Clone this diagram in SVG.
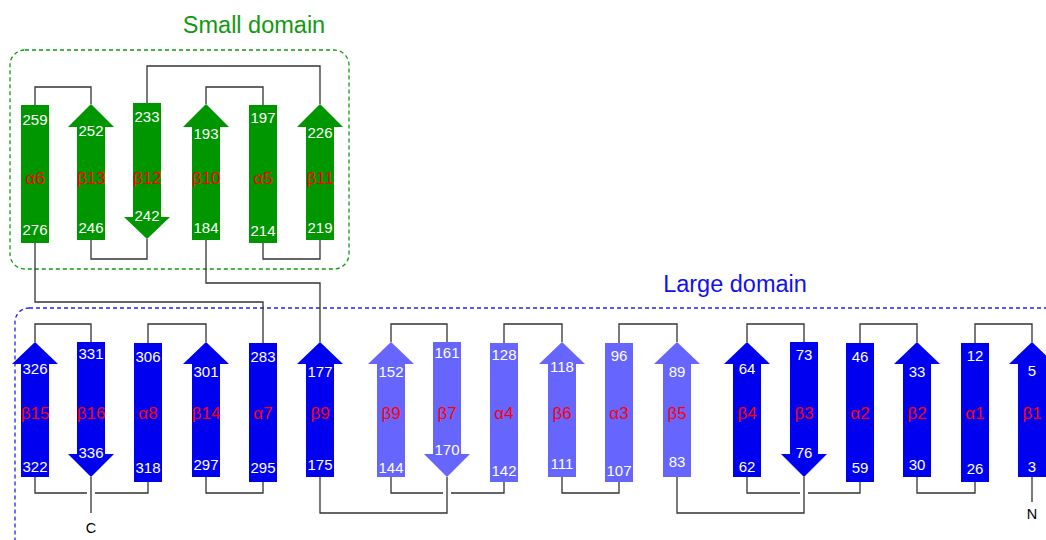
<svg xmlns="http://www.w3.org/2000/svg" width="1046" height="540" viewBox="0 0 1046 540">
  <style>
    .sd { fill: #009600; }
    .dk { fill: #0000F0; }
    .lt { fill: #6666FF; }
    .num { font-family: "Liberation Sans", Arial, sans-serif; font-size: 15px; fill: #ffffff; text-anchor: middle; }
    .ss { font-family: "Liberation Sans", Arial, sans-serif; font-size: 17px; fill: #ff0000; text-anchor: middle; }
    .term { font-family: "Liberation Sans", Arial, sans-serif; font-size: 14.5px; fill: #000000; text-anchor: middle; }
    .title { font-family: "Liberation Sans", Arial, sans-serif; font-size: 23.5px; text-anchor: middle; }
    .link { fill: none; stroke: #333333; stroke-width: 1.3; }
    .box { fill: none; stroke-width: 1.3; stroke-dasharray: 4 3; }
  </style>

  <!-- domain frames -->
  <g id="domains">
    <rect class="box" x="10" y="50" width="339" height="219" rx="15" stroke="#119911"/>
    <text class="title" x="254" y="33" fill="#119911">Small domain</text>
    <rect class="box" x="15" y="308" width="1100" height="300" rx="14" stroke="#2222EE"/>
    <text class="title" x="735" y="292" fill="#1111EE">Large domain</text>
  </g>

  <!-- loops between secondary-structure elements -->
  <g id="connectors">
    <!-- small domain -->
    <path class="link" d="M35,105 V87 H91 V104"/>
    <path class="link" d="M147,103 V66 H320 V104"/>
    <path class="link" d="M206,104 V87 H263 V105"/>
    <path class="link" d="M91,240 V259 H147 V239"/>
    <path class="link" d="M263,243 V259 H320 V240"/>
    <!-- between domains -->
    <path class="link" d="M35,243 V302 H263 V343"/>
    <path class="link" d="M206,240 V283 H320 V342"/>
    <!-- large domain, top loops -->
    <path class="link" d="M35,342 V324 H91 V342"/>
    <path class="link" d="M148,343 V324 H206 V342"/>
    <path class="link" d="M391,342 V324 H447 V342"/>
    <path class="link" d="M504,343 V324 H562 V342"/>
    <path class="link" d="M619,343 V324 H677 V342"/>
    <path class="link" d="M747,342 V324 H804 V342"/>
    <path class="link" d="M860,343 V324 H917 V342"/>
    <path class="link" d="M975,343 V324 H1032 V342"/>
    <!-- large domain, bottom loops -->
    <path class="link" d="M35,477 V493 H87"/>
    <path class="link" d="M95,493 H148 V482"/>
    <path class="link" d="M91,477 V513"/>
    <path class="link" d="M206,477 V493 H263 V482"/>
    <path class="link" d="M320,477 V513 H447 V477"/>
    <path class="link" d="M391,477 V493 H443"/>
    <path class="link" d="M451,493 H504 V482"/>
    <path class="link" d="M562,477 V493 H619 V482"/>
    <path class="link" d="M677,477 V513 H804 V477"/>
    <path class="link" d="M747,477 V493 H800"/>
    <path class="link" d="M808,493 H860 V482"/>
    <path class="link" d="M917,477 V493 H975 V482"/>
    <path class="link" d="M1032,477 V502"/>
    <text class="term" x="91" y="533">C</text>
    <text class="term" x="1032" y="519">N</text>
  </g>

  <!-- small domain elements -->
  <g id="a6">
    <rect class="sd" x="21" y="105" width="28" height="138"/>
    <text class="num" x="35" y="125">259</text><text class="num" x="35" y="235">276</text>
    <text class="ss" x="35" y="184">α6</text>
  </g>
  <g id="b13">
    <path class="sd" d="M91,104 L114,127 L105,127 L105,240 L77,240 L77,127 L68,127 Z"/>
    <text class="num" x="91" y="136">252</text><text class="num" x="91" y="233">246</text>
    <text class="ss" x="91" y="184">β13</text>
  </g>
  <g id="b12">
    <path class="sd" d="M133,103 L161,103 L161,217 L170,217 L147,239 L124,217 L133,217 Z"/>
    <text class="num" x="147" y="122">233</text><text class="num" x="147" y="221">242</text>
    <text class="ss" x="147" y="184">β12</text>
  </g>
  <g id="b10">
    <path class="sd" d="M206,104 L229,127 L220,127 L220,240 L192,240 L192,127 L183,127 Z"/>
    <text class="num" x="206" y="139">193</text><text class="num" x="206" y="233">184</text>
    <text class="ss" x="206" y="184">β10</text>
  </g>
  <g id="a5">
    <rect class="sd" x="249" y="105" width="28" height="138"/>
    <text class="num" x="263" y="123">197</text><text class="num" x="263" y="236">214</text>
    <text class="ss" x="263" y="184">α5</text>
  </g>
  <g id="b11">
    <path class="sd" d="M320,104 L343,127 L334,127 L334,240 L306,240 L306,127 L297,127 Z"/>
    <text class="num" x="320" y="138">226</text><text class="num" x="320" y="233">219</text>
    <text class="ss" x="320" y="184">β11</text>
  </g>

  <!-- large domain elements -->
  <g id="b15">
    <path class="dk" d="M35,342 L58,364 L49,364 L49,477 L21,477 L21,364 L12,364 Z"/>
    <text class="num" x="35" y="374">326</text><text class="num" x="35" y="472">322</text>
    <text class="ss" x="35" y="419">β15</text>
  </g>
  <g id="b16">
    <path class="dk" d="M77,342 L105,342 L105,454 L114,454 L91,477 L68,454 L77,454 Z"/>
    <text class="num" x="91" y="359">331</text><text class="num" x="91" y="458">336</text>
    <text class="ss" x="91" y="419">β16</text>
  </g>
  <g id="a8">
    <rect class="dk" x="134" y="343" width="28" height="139"/>
    <text class="num" x="148" y="362">306</text><text class="num" x="148" y="473">318</text>
    <text class="ss" x="148" y="419">α8</text>
  </g>
  <g id="b14">
    <path class="dk" d="M206,342 L229,364 L220,364 L220,477 L192,477 L192,364 L183,364 Z"/>
    <text class="num" x="206" y="377">301</text><text class="num" x="206" y="470">297</text>
    <text class="ss" x="206" y="419">β14</text>
  </g>
  <g id="a7">
    <rect class="dk" x="249" y="343" width="28" height="139"/>
    <text class="num" x="263" y="362">283</text><text class="num" x="263" y="473">295</text>
    <text class="ss" x="263" y="419">α7</text>
  </g>
  <g id="b9-dark">
    <path class="dk" d="M320,342 L343,364 L334,364 L334,477 L306,477 L306,364 L297,364 Z"/>
    <text class="num" x="320" y="377">177</text><text class="num" x="320" y="470">175</text>
    <text class="ss" x="320" y="419">β9</text>
  </g>
  <g id="b9-light">
    <path class="lt" d="M391,342 L414,364 L405,364 L405,477 L377,477 L377,364 L368,364 Z"/>
    <text class="num" x="391" y="377">152</text><text class="num" x="391" y="473">144</text>
    <text class="ss" x="391" y="419">β9</text>
  </g>
  <g id="b7">
    <path class="lt" d="M433,342 L461,342 L461,454 L470,454 L447,477 L424,454 L433,454 Z"/>
    <text class="num" x="447" y="358">161</text><text class="num" x="447" y="455">170</text>
    <text class="ss" x="447" y="419">β7</text>
  </g>
  <g id="a4">
    <rect class="lt" x="490" y="343" width="28" height="139"/>
    <text class="num" x="504" y="360">128</text><text class="num" x="504" y="476">142</text>
    <text class="ss" x="504" y="419">α4</text>
  </g>
  <g id="b6">
    <path class="lt" d="M562,342 L585,364 L576,364 L576,477 L548,477 L548,364 L539,364 Z"/>
    <text class="num" x="562" y="372">118</text><text class="num" x="562" y="469">111</text>
    <text class="ss" x="562" y="419">β6</text>
  </g>
  <g id="a3">
    <rect class="lt" x="605" y="343" width="28" height="139"/>
    <text class="num" x="619" y="361">96</text><text class="num" x="619" y="476">107</text>
    <text class="ss" x="619" y="419">α3</text>
  </g>
  <g id="b5">
    <path class="lt" d="M677,342 L700,364 L691,364 L691,477 L663,477 L663,364 L654,364 Z"/>
    <text class="num" x="677" y="377">89</text><text class="num" x="677" y="467">83</text>
    <text class="ss" x="677" y="419">β5</text>
  </g>
  <g id="b4">
    <path class="dk" d="M747,342 L770,364 L761,364 L761,477 L733,477 L733,364 L724,364 Z"/>
    <text class="num" x="747" y="374">64</text><text class="num" x="747" y="472">62</text>
    <text class="ss" x="747" y="419">β4</text>
  </g>
  <g id="b3">
    <path class="dk" d="M790,342 L818,342 L818,454 L827,454 L804,477 L781,454 L790,454 Z"/>
    <text class="num" x="804" y="360">73</text><text class="num" x="804" y="458">76</text>
    <text class="ss" x="804" y="419">β3</text>
  </g>
  <g id="a2">
    <rect class="dk" x="846" y="343" width="28" height="139"/>
    <text class="num" x="860" y="362">46</text><text class="num" x="860" y="473">59</text>
    <text class="ss" x="860" y="419">α2</text>
  </g>
  <g id="b2">
    <path class="dk" d="M917,342 L940,364 L931,364 L931,477 L903,477 L903,364 L894,364 Z"/>
    <text class="num" x="917" y="377">33</text><text class="num" x="917" y="470">30</text>
    <text class="ss" x="917" y="419">β2</text>
  </g>
  <g id="a1">
    <rect class="dk" x="961" y="343" width="28" height="139"/>
    <text class="num" x="975" y="361">12</text><text class="num" x="975" y="474">26</text>
    <text class="ss" x="975" y="419">α1</text>
  </g>
  <g id="b1">
    <path class="dk" d="M1032,342 L1055,364 L1046,364 L1046,477 L1018,477 L1018,364 L1009,364 Z"/>
    <text class="num" x="1032" y="376">5</text><text class="num" x="1032" y="472">3</text>
    <text class="ss" x="1032" y="419">β1</text>
  </g>
</svg>
